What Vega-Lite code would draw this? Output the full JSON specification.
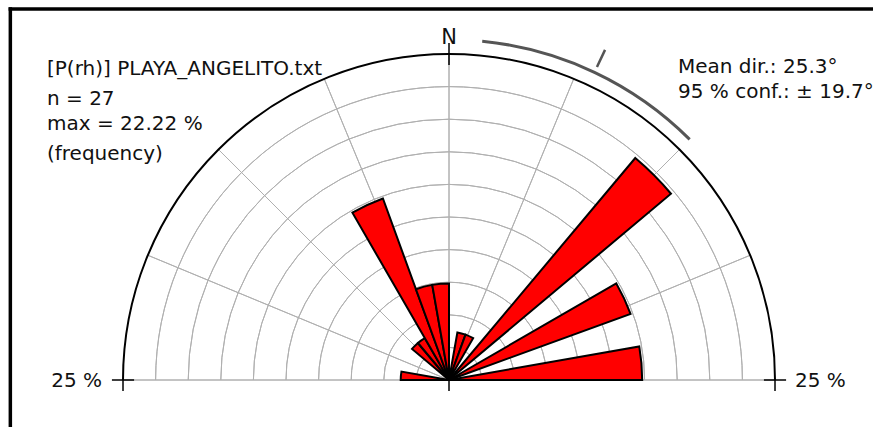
{
  "$schema": "https://vega.github.io/schema/vega-lite/v6.json",
  "width": 873,
  "height": 427,
  "autosize": {"type": "none"},
  "padding": 0,
  "background": "white",
  "view": {"stroke": null},
  "config": {"text": {"font": "DejaVu Sans", "fontSize": 20, "color": "#111111"}},
  "data": {"values": [{"note": "annotation"}]},
  "datasets": {
    "petals": [
      {"a0": -90, "a1": -80, "n": 1, "pct": 3.704},
      {"a0": -50, "a1": -40, "n": 1, "pct": 3.704},
      {"a0": -40, "a1": -30, "n": 1, "pct": 3.704},
      {"a0": -30, "a1": -20, "n": 4, "pct": 14.815},
      {"a0": -20, "a1": -10, "n": 2, "pct": 7.407},
      {"a0": -10, "a1": 0, "n": 2, "pct": 7.407},
      {"a0": 10, "a1": 20, "n": 1, "pct": 3.704},
      {"a0": 20, "a1": 30, "n": 1, "pct": 3.704},
      {"a0": 40, "a1": 50, "n": 6, "pct": 22.222},
      {"a0": 60, "a1": 70, "n": 4, "pct": 14.815},
      {"a0": 80, "a1": 90, "n": 4, "pct": 14.815}
    ],
    "rings": [{"r": 2.5}, {"r": 5}, {"r": 7.5}, {"r": 10}, {"r": 12.5}, {"r": 15}, {"r": 17.5}, {"r": 20}, {"r": 22.5}],
    "spokes": [{"a": -90}, {"a": -67.5}, {"a": -45}, {"a": -22.5}, {"a": 0}, {"a": 22.5}, {"a": 45}, {"a": 67.5}, {"a": 90}]
  },
  "encoding": {
    "x": {"datum": 0, "type": "quantitative", "scale": {"domain": [-34.433, 32.515], "nice": false, "zero": false}, "axis": null},
    "y": {"datum": 0, "type": "quantitative", "scale": {"domain": [-3.604, 29.141], "nice": false, "zero": false}, "axis": null}
  },
  "layer": [
    {
      "data": {"name": "rings"},
      "mark": {"type": "arc", "filled": false, "stroke": "#b0b0b0", "strokeWidth": 1},
      "encoding": {
        "theta": {"datum": -90, "type": "quantitative", "scale": {"type": "linear", "domain": [-90, 90], "range": [-1.5707963267948966, 1.5707963267948966], "zero": false, "nice": false}},
        "theta2": {"datum": 90},
        "radius": {"field": "r", "type": "quantitative", "scale": {"type": "linear", "domain": [0, 25], "range": [0, 326], "zero": false, "nice": false}},
        "radius2": {"field": "r"}
      }
    },
    {
      "data": {"name": "spokes"},
      "mark": {"type": "arc", "filled": false, "stroke": "#b0b0b0", "strokeWidth": 1},
      "encoding": {
        "theta": {"field": "a", "type": "quantitative", "stack": null, "scale": {"type": "linear", "domain": [-90, 90], "range": [-1.5707963267948966, 1.5707963267948966], "zero": false, "nice": false}},
        "theta2": {"field": "a"},
        "radius": {"datum": 25, "type": "quantitative", "scale": {"type": "linear", "domain": [0, 25], "range": [0, 326], "zero": false, "nice": false}},
        "radius2": {"datum": 0}
      }
    },
    {
      "data": {"name": "petals"},
      "mark": {"type": "arc", "fill": "#ff0000", "stroke": "#000000", "strokeWidth": 2, "strokeJoin": "miter"},
      "encoding": {
        "theta": {"field": "a0", "type": "quantitative", "stack": null, "scale": {"type": "linear", "domain": [-90, 90], "range": [-1.5707963267948966, 1.5707963267948966], "zero": false, "nice": false}},
        "theta2": {"field": "a1"},
        "radius": {"field": "pct", "type": "quantitative", "scale": {"type": "linear", "domain": [0, 25], "range": [0, 326], "zero": false, "nice": false}},
        "radius2": {"datum": 0}
      }
    },
    {
      "mark": {"type": "arc", "filled": false, "stroke": "#000000", "strokeWidth": 2},
      "encoding": {
        "theta": {"datum": -90, "type": "quantitative", "scale": {"type": "linear", "domain": [-90, 90], "range": [-1.5707963267948966, 1.5707963267948966], "zero": false, "nice": false}},
        "theta2": {"datum": 90},
        "radius": {"datum": 25, "type": "quantitative", "scale": {"type": "linear", "domain": [0, 25], "range": [0, 326], "zero": false, "nice": false}},
        "radius2": {"datum": 25}
      }
    },
    {
      "mark": {"type": "arc", "filled": false, "stroke": "#555555", "strokeWidth": 3},
      "encoding": {
        "theta": {"datum": 5.6, "type": "quantitative", "scale": {"type": "linear", "domain": [-90, 90], "range": [-1.5707963267948966, 1.5707963267948966], "zero": false, "nice": false}},
        "theta2": {"datum": 45.0},
        "radius": {"datum": 26.1, "type": "quantitative", "scale": {"type": "linear", "domain": [0, 25], "range": [0, 326], "zero": false, "nice": false}},
        "radius2": {"datum": 26.1}
      }
    },
    {
      "mark": {"type": "arc", "filled": false, "stroke": "#555555", "strokeWidth": 2.5},
      "encoding": {
        "theta": {"datum": 25.3, "type": "quantitative", "scale": {"type": "linear", "domain": [-90, 90], "range": [-1.5707963267948966, 1.5707963267948966], "zero": false, "nice": false}},
        "theta2": {"datum": 25.3},
        "radius": {"datum": 28.0, "type": "quantitative", "scale": {"type": "linear", "domain": [0, 25], "range": [0, 326], "zero": false, "nice": false}},
        "radius2": {"datum": 26.55}
      }
    },
    {
      "mark": {"type": "arc", "filled": false, "stroke": "#000000", "strokeWidth": 1.5},
      "encoding": {
        "theta": {"datum": 0, "type": "quantitative", "scale": {"type": "linear", "domain": [-90, 90], "range": [-1.5707963267948966, 1.5707963267948966], "zero": false, "nice": false}},
        "theta2": {"datum": 0},
        "radius": {"datum": 25.85, "type": "quantitative", "scale": {"type": "linear", "domain": [0, 25], "range": [0, 326], "zero": false, "nice": false}},
        "radius2": {"datum": 24.15}
      }
    },
    {
      "mark": {"type": "rule", "color": "#000000", "strokeWidth": 1.5},
      "encoding": {"x": {"datum": -25, "type": "quantitative"}, "y": {"datum": 0, "type": "quantitative"}, "y2": {"datum": -0.85}}
    },
    {
      "mark": {"type": "rule", "color": "#000000", "strokeWidth": 1.5},
      "encoding": {"x": {"datum": 0, "type": "quantitative"}, "y": {"datum": 0, "type": "quantitative"}, "y2": {"datum": -0.85}}
    },
    {
      "mark": {"type": "rule", "color": "#000000", "strokeWidth": 1.5},
      "encoding": {"x": {"datum": 25, "type": "quantitative"}, "y": {"datum": 0, "type": "quantitative"}, "y2": {"datum": -0.85}}
    },
    {
      "mark": {"type": "rule", "color": "#000000", "strokeWidth": 1.5},
      "encoding": {"x": {"datum": -25.85, "type": "quantitative"}, "x2": {"datum": -24.15}, "y": {"datum": 0, "type": "quantitative"}}
    },
    {
      "mark": {"type": "rule", "color": "#000000", "strokeWidth": 1.5},
      "encoding": {"x": {"datum": 24.15, "type": "quantitative"}, "x2": {"datum": 25.85}, "y": {"datum": 0, "type": "quantitative"}}
    },
    {
      "mark": {"type": "rule", "color": "#000000", "strokeWidth": 3.5, "strokeCap": "square"},
      "encoding": {"x": {"datum": -33.64, "type": "quantitative"}, "x2": {"datum": 32.515}, "y": {"datum": 28.45, "type": "quantitative"}}
    },
    {
      "mark": {"type": "rule", "color": "#000000", "strokeWidth": 3.5, "strokeCap": "square"},
      "encoding": {"x": {"datum": -33.64, "type": "quantitative"}, "y": {"datum": 28.45, "type": "quantitative"}, "y2": {"datum": -3.604}}
    },
    {
      "mark": {"type": "text", "text": "N", "fontSize": 21, "align": "center", "baseline": "alphabetic"},
      "encoding": {"x": {"datum": 0, "type": "quantitative"}, "y": {"datum": 25.77, "type": "quantitative"}}
    },
    {
      "mark": {"type": "text", "text": "25 %", "align": "right", "baseline": "alphabetic"},
      "encoding": {"x": {"datum": -26.61, "type": "quantitative"}, "y": {"datum": -0.537, "type": "quantitative"}}
    },
    {
      "mark": {"type": "text", "text": "25 %", "align": "left", "baseline": "alphabetic"},
      "encoding": {"x": {"datum": 26.53, "type": "quantitative"}, "y": {"datum": -0.537, "type": "quantitative"}}
    },
    {
      "mark": {"type": "text", "text": "[P(rh)] PLAYA_ANGELITO.txt", "align": "left", "baseline": "alphabetic"},
      "encoding": {"x": {"datum": -30.83, "type": "quantitative"}, "y": {"datum": 23.39, "type": "quantitative"}}
    },
    {
      "mark": {"type": "text", "text": "n = 27", "align": "left", "baseline": "alphabetic"},
      "encoding": {"x": {"datum": -30.83, "type": "quantitative"}, "y": {"datum": 21.09, "type": "quantitative"}}
    },
    {
      "mark": {"type": "text", "text": "max = 22.22 %", "align": "left", "baseline": "alphabetic"},
      "encoding": {"x": {"datum": -30.83, "type": "quantitative"}, "y": {"datum": 19.17, "type": "quantitative"}}
    },
    {
      "mark": {"type": "text", "text": "(frequency)", "align": "left", "baseline": "alphabetic"},
      "encoding": {"x": {"datum": -30.83, "type": "quantitative"}, "y": {"datum": 16.87, "type": "quantitative"}}
    },
    {
      "mark": {"type": "text", "text": "Mean dir.: 25.3°", "align": "left", "baseline": "alphabetic"},
      "encoding": {"x": {"datum": 17.56, "type": "quantitative"}, "y": {"datum": 23.54, "type": "quantitative"}}
    },
    {
      "mark": {"type": "text", "text": "95 % conf.: ± 19.7°", "align": "left", "baseline": "alphabetic"},
      "encoding": {"x": {"datum": 17.56, "type": "quantitative"}, "y": {"datum": 21.63, "type": "quantitative"}}
    }
  ]
}
